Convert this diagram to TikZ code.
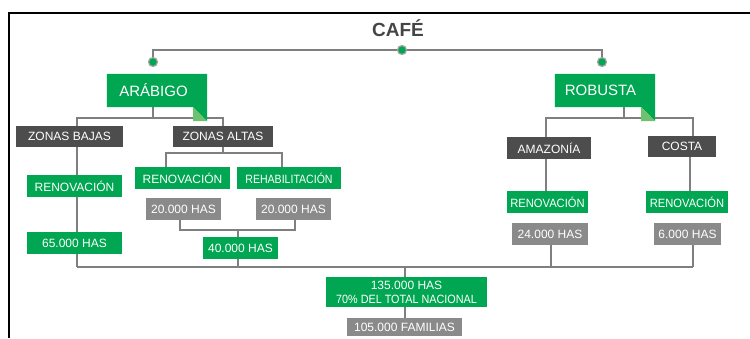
\documentclass[tikz,border=0pt]{standalone}
\usepackage{fontspec}
\usepackage{graphicx}
\usetikzlibrary{backgrounds}
\setmainfont{Liberation Sans}
\definecolor{cgreen}{HTML}{00A651}
\definecolor{cfold}{HTML}{6CC26E}
\definecolor{cdark}{HTML}{4D4D4D}
\definecolor{cgray}{HTML}{8A8A8A}
\definecolor{cline}{HTML}{7F7F7F}
\definecolor{ctitle}{HTML}{454545}
\begin{document}
\begin{tikzpicture}[x=1pt,y=-1pt,
  box/.style={inner sep=0pt,text=white,font=\fontsize{12}{13}\selectfont},
  gbox/.style={box,fill=cgreen},
  dbox/.style={box,fill=cdark},
  ybox/.style={box,fill=cgray},
  conn/.style={draw=cline,line width=1.5pt},
  dot/.style={circle,fill=cgreen,draw=cline!70,line width=1.2pt,minimum size=9pt,inner sep=0pt},
  bigt/.style={inner sep=0pt,text=white,font=\fontsize{15}{16}\selectfont}]
\useasboundingbox (0,0) rectangle (750,338);
% frame
\draw[line width=2pt,black] (750,13) -- (9,13) -- (9,338);
% title
\node[inner sep=0pt,text=ctitle,font=\bfseries\fontsize{19}{20}\selectfont] (cafe) at (398,28) {CAFÉ};
% dots
\node[dot] (dc) at (402,50) {};
\node[dot] (da) at (153,62) {};
\node[dot] (dr) at (602,62) {};
% level 1 shapes
\node[minimum width=100pt,minimum height=33pt,inner sep=0pt] (arabigo) at (157,90.5) {};
\node[minimum width=100pt,minimum height=33pt,inner sep=0pt] (robusta) at (605,90.5) {};
\foreach \n in {arabigo,robusta}{
  \fill[cgreen] (\n.north west) -- (\n.north east) -- ([yshift=-14pt]\n.south east) -- ([xshift=-14pt]\n.south east) -- (\n.south west) -- cycle;
  \fill[cfold] ([xshift=-14pt,yshift=-14pt]\n.south east) -- ([yshift=-14pt]\n.south east) -- ([xshift=-14pt]\n.south east) -- cycle;
}
\node[bigt] (arabigoT) at (153.5,90.5) {ARÁBIGO};
\node[bigt] (robustaT) at (600.5,90.5) {ROBUSTA};
% level 2
\node[dbox,minimum width=107pt,minimum height=21pt] (zbajas) at (69.5,136.5) {ZONAS BAJAS};
\node[dbox,minimum width=100pt,minimum height=21pt] (zaltas) at (223,136.5) {ZONAS ALTAS};
\node[dbox,minimum width=84pt,minimum height=22pt] (amaz) at (549,148) {AMAZONÍA};
\node[dbox,minimum width=68pt,minimum height=21pt] (costa) at (682,146.5) {COSTA};
% level 3
\node[gbox,minimum width=95pt,minimum height=22pt] (renB) at (74.5,186) {RENOVACIÓN};
\node[gbox,minimum width=95pt,minimum height=22pt] (renA) at (182.5,178) {RENOVACIÓN};
\node[gbox,minimum width=104pt,minimum height=22pt] (rehab) at (289,178) {\scalebox{0.88}[1]{REHABILITACIÓN}};
\node[gbox,minimum width=81pt,minimum height=22pt] (renC) at (547.5,202) {\scalebox{0.93}[1]{RENOVACIÓN}};
\node[gbox,minimum width=82pt,minimum height=22pt] (renD) at (687,202) {\scalebox{0.93}[1]{RENOVACIÓN}};
% level 4
\node[ybox,minimum width=75pt,minimum height=22pt] (h20a) at (183.5,209) {20.000 HAS};
\node[ybox,minimum width=75pt,minimum height=22pt] (h20b) at (293.5,209) {20.000 HAS};
\node[gbox,minimum width=75pt,minimum height=22pt] (h40) at (240.5,248) {40.000 HAS};
\node[gbox,minimum width=95pt,minimum height=22pt] (h65) at (74.5,243) {65.000 HAS};
\node[ybox,minimum width=76pt,minimum height=22pt] (h24) at (550,234) {24.000 HAS};
\node[ybox,minimum width=67pt,minimum height=22pt] (h6) at (687.5,234) {6.000 HAS};
% bottom
\node[gbox,minimum width=161pt,minimum height=30pt,align=center,font=\fontsize{12}{14}\selectfont] (total) at (406.5,292) {135.000 HAS\\\scalebox{0.9}[1]{70\% DEL TOTAL NACIONAL}};
\node[ybox,minimum width=115pt,minimum height=18pt] (fam) at (404.5,327) {105.000 FAMILIAS};
% helper coordinates
\coordinate (xA) at (77,267);
\coordinate (xB) at (238,267);
\coordinate (xC) at (405,267);
\coordinate (xD) at (551,267);
\coordinate (xE) at (693,267);
\coordinate (ha) at (153,118);
\coordinate (hr) at (624,118);
\coordinate (hz) at (223,153);
\coordinate (br) at (238,230);
\begin{pgfonlayer}{background}
% connectors: title
\draw[conn] (da) -- (da |- dc) -- (dc) -- (dr |- dc) -- (dr);
% arabigo
\draw[conn] (arabigo.south -| ha) -- (ha);
\draw[conn] (zbajas.north -| xA) -- (xA |- ha) -- (zaltas.north |- ha) -- (zaltas.north);
\draw[conn] (zbajas.south -| xA) -- (renB.north -| xA);
\draw[conn] (renB.south -| xA) -- (h65.north -| xA);
\draw[conn] (h65.south -| xA) -- (xA);
\draw[conn] (zaltas.south) -- (hz);
\draw[conn] (renA.north -| 166,0) -- (166,153) -- (282,153) -- (rehab.north -| 282,0);
\draw[conn] (h20a.south -| 180,0) -- (180,230) -- (295,230) -- (h20b.south -| 295,0);
\draw[conn] (br) -- (h40.north -| br);
\draw[conn] (h40.south -| xB) -- (xB);
% robusta
\draw[conn] (robusta.south -| hr) -- (hr);
\draw[conn] (amaz.north -| 546,0) -- (546,118) -- (693,118) -- (costa.north -| 693,0);
\draw[conn] (amaz.south -| 546,0) -- (renC.north -| 546,0);
\draw[conn] (costa.south -| 690,0) -- (renD.north -| 690,0);
\draw[conn] (h24.south -| xD) -- (xD);
\draw[conn] (h6.south -| xE) -- (xE);
% main bus
\draw[conn] (xA) -- (xE);
\draw[conn] (xC) -- (total.north -| xC);
\draw[conn] (total.south -| xC) -- (fam.north -| xC);
\end{pgfonlayer}
\end{tikzpicture}
\end{document}
